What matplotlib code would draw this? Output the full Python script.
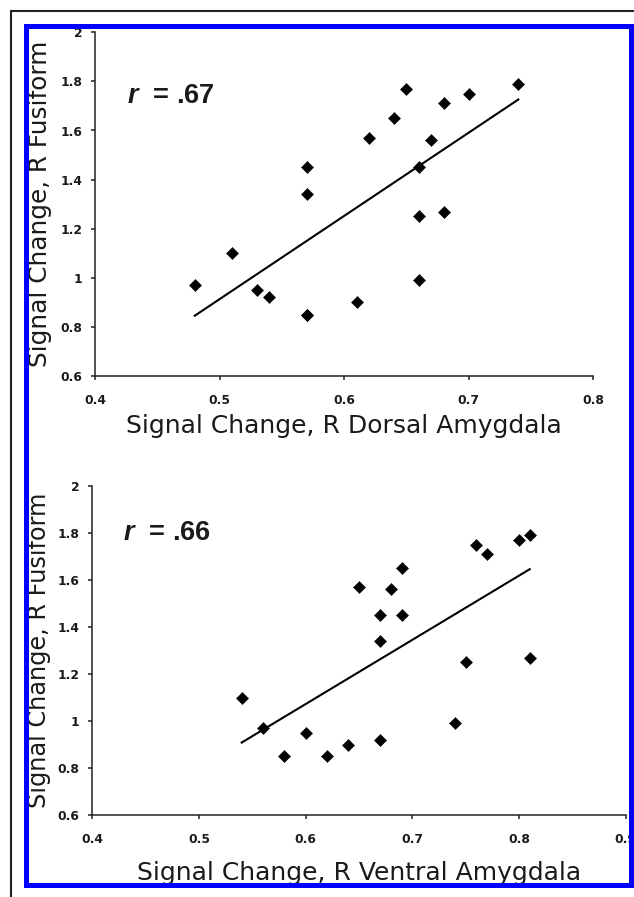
import matplotlib
matplotlib.use("Agg")
import matplotlib.pyplot as plt
import matplotlib.transforms as mtransforms
import numpy as np
from matplotlib.patches import Rectangle
from matplotlib.lines import Line2D

# ---- data ----
# (two subjects share the point 0.57, 0.85 in the dorsal panel)
dorsal_x = [0.48, 0.51, 0.53, 0.54, 0.57, 0.57, 0.57, 0.57, 0.61, 0.62, 0.64,
            0.65, 0.66, 0.66, 0.66, 0.67, 0.68, 0.68, 0.70, 0.74]
dorsal_y = [0.97, 1.10, 0.95, 0.92, 0.85, 0.85, 1.34, 1.45, 0.90, 1.57, 1.65,
            1.77, 1.45, 1.25, 0.99, 1.56, 1.71, 1.27, 1.75, 1.79]

ventral_x = [0.54, 0.56, 0.58, 0.60, 0.62, 0.64, 0.65, 0.67, 0.67, 0.67,
             0.68, 0.69, 0.69, 0.74, 0.75, 0.76, 0.77, 0.80, 0.81, 0.81]
ventral_y = [1.10, 0.97, 0.85, 0.95, 0.85, 0.90, 1.57, 0.92, 1.34, 1.45,
             1.56, 1.65, 1.45, 0.99, 1.25, 1.75, 1.71, 1.77, 1.79, 1.27]

top_xticks = [0.4, 0.5, 0.6, 0.7, 0.8]
bot_xticks = [0.4, 0.5, 0.6, 0.7, 0.8, 0.9]
yticks = [0.6, 0.8, 1.0, 1.2, 1.4, 1.6, 1.8, 2.0]
ytick_labels = ["0.6", "0.8", "1", "1.2", "1.4", "1.6", "1.8", "2"]

r_top = ".67"
r_bot = ".66"
xlabel_top = "Signal Change, R Dorsal Amygdala"
xlabel_bot = "Signal Change, R Ventral Amygdala"
ylabel = "Signal Change, R Fusiform"

# ---- figure ----
W, H = 634, 897
fig = plt.figure(figsize=(W / 100, H / 100), dpi=100)
fig.patch.set_facecolor("white")

plt.rcParams["mathtext.fontset"] = "custom"
plt.rcParams["mathtext.it"] = "Liberation Sans:italic:bold"
plt.rcParams["mathtext.rm"] = "Liberation Sans:bold"

TXT = "#1a1a1a"

def px2fig_x(p):
    return p / W

def px2fig_y(p):
    return (H - p) / H

def make_axes(left, right, top, bottom):
    return fig.add_axes([px2fig_x(left), px2fig_y(bottom),
                         (right - left) / W, (bottom - top) / H])

ax1 = make_axes(95.2, 593.0, 32.3, 376.0)
ax2 = make_axes(92.3, 625.8, 486.0, 815.0)

def style(ax, xs, ys, xticks, xlim, rtxt, rpos, xlab, xlab_y, ylab_x, ylab_size):
    ax.set_xlim(*xlim)
    ax.set_ylim(0.6, 2.0)
    ax.plot(xs, ys, linestyle="none", marker="D", markersize=6.2,
            color="black", markeredgewidth=0.4, zorder=3, clip_on=False)
    m, b = np.polyfit(xs, ys, 1)
    xl = np.array([min(xs), max(xs)])
    ax.plot(xl, m * xl + b, color="black", linewidth=1.5, zorder=2)
    for s in ["top", "right"]:
        ax.spines[s].set_visible(False)
    for s in ["left", "bottom"]:
        ax.spines[s].set_linewidth(1.1)
        ax.spines[s].set_color("#222222")
    ax.set_xticks(xticks)
    ax.set_xticklabels([f"{t:.1f}" for t in xticks])
    ax.set_yticks(yticks)
    ax.set_yticklabels(ytick_labels)
    ax.tick_params(axis="both", direction="out", length=3.2, width=1.1,
                   color="#222222", labelcolor=TXT, labelsize=8.8)
    ax.tick_params(axis="x", pad=10)
    ax.tick_params(axis="y", pad=6)
    for lab in ax.get_xticklabels() + ax.get_yticklabels():
        lab.set_fontweight("bold")
        lab.set_family("DejaVu Sans")
    ax.text(rpos[0], rpos[1], r"$r$  = " + rtxt, transform=ax.transAxes,
            fontsize=19.5, fontweight="bold", family="Liberation Sans",
            ha="left", va="baseline", color=TXT)
    ax.set_xlabel(xlab, fontsize=18, color=TXT, family="DejaVu Sans")
    ax.xaxis.set_label_coords(
        0.5, px2fig_y(xlab_y),
        transform=mtransforms.blended_transform_factory(ax.transAxes, fig.transFigure))
    ax.xaxis.label.set_verticalalignment("baseline")
    ax.set_ylabel(ylabel, fontsize=ylab_size, color=TXT, family="DejaVu Sans")
    ax.yaxis.set_label_coords(
        px2fig_x(ylab_x), 0.5,
        transform=mtransforms.blended_transform_factory(fig.transFigure, ax.transAxes))

style(ax1, dorsal_x, dorsal_y, top_xticks, (0.4, 0.8), r_top, (0.063, 0.793),
      xlabel_top, 432.7, 52, 17.8)
style(ax2, ventral_x, ventral_y, bot_xticks, (0.4, 0.9), r_bot, (0.058, 0.836),
      xlabel_bot, 880.0, 51, 17.3)

# ---- frames ----
fig.add_artist(Line2D([px2fig_x(10.5), px2fig_x(10.5)], [px2fig_y(11), px2fig_y(900)],
                      transform=fig.transFigure, color="#222222", linewidth=1.5))
fig.add_artist(Line2D([px2fig_x(10.5), px2fig_x(640)], [px2fig_y(11), px2fig_y(11)],
                      transform=fig.transFigure, color="#222222", linewidth=1.5))
fig.add_artist(Rectangle((px2fig_x(26.5), px2fig_y(884.5)),
                         (630.5 - 26.5) / W, (884.5 - 26.5) / H,
                         transform=fig.transFigure, fill=False,
                         edgecolor="#0000ff", linewidth=3.6, zorder=10))

fig.savefig("out.png", dpi=100)
